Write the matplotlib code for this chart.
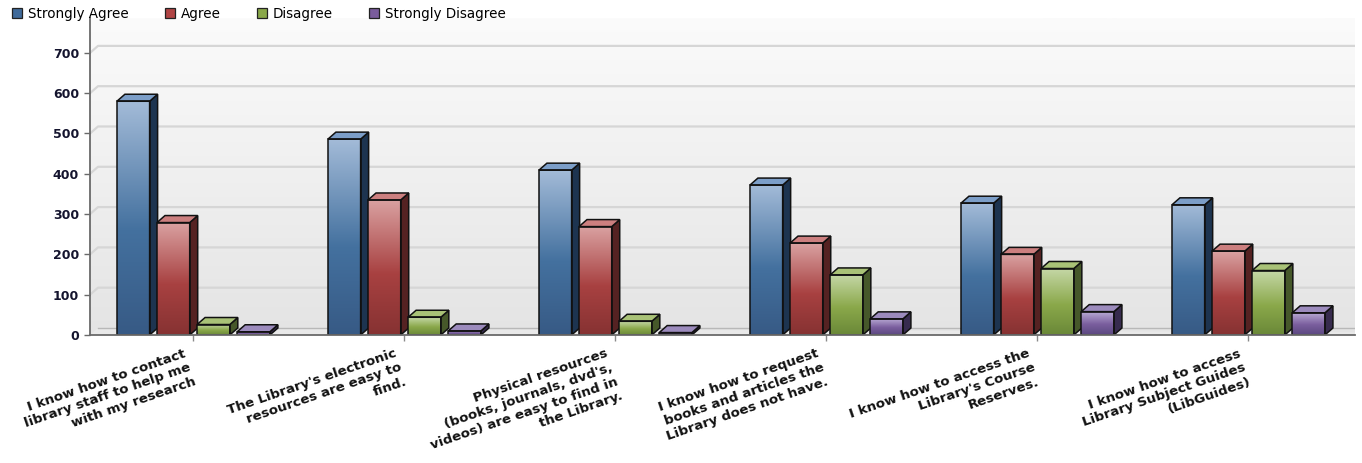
import numpy as np
import matplotlib.pyplot as plt
from matplotlib.colors import LinearSegmentedColormap
from matplotlib.patches import Polygon, Patch

# survey data
categories = [
    "I know how to contact\nlibrary staff to help me\nwith my research",
    "The Library's electronic\nresources are easy to\nfind.",
    "Physical resources\n(books, journals, dvd's,\nvideos) are easy to find in\nthe Library.",
    "I know how to request\nbooks and articles the\nLibrary does not have.",
    "I know how to access the\nLibrary's Course\nReserves.",
    "I know how to access\nLibrary Subject Guides\n(LibGuides)",
]
series_names = ["Strongly Agree", "Agree", "Disagree", "Strongly Disagree"]
strongly_agree = [580, 486, 409, 372, 327, 323]
agree = [279, 335, 269, 228, 200, 208]
disagree = [26, 44, 34, 149, 165, 160]
strongly_disagree = [8, 10, 6, 40, 58, 55]
y_ticks = [0, 100, 200, 300, 400, 500, 600, 700]

series = [strongly_agree, agree, disagree, strongly_disagree]

# (bottom, middle, top) of the front face, side face, top face, legend swatch
palette = [
    (("#375a85", "#44719f", "#a3bbd8"), "#1d3450", "#7c9ec8", "#3f6a9a"),
    (("#863232", "#a84141", "#daa2a2"), "#552222", "#cc7f7f", "#b04444"),
    (("#6a8838", "#8aa84a", "#c6d8a8"), "#46582a", "#a9c277", "#8aa84a"),
    (("#5b4880", "#7a5e9e", "#bcaed6"), "#372b4e", "#9c8bbd", "#7a5c9c"),
]

fig = plt.figure(figsize=(13.62, 4.63), dpi=100)
ax = fig.add_axes([90 / 1362, (463 - 335) / 463, 1265 / 1362, 317 / 463])

xmin, xmax = -0.49, 5.505
ymax = 786.6
ax.set_xlim(xmin, xmax)
ax.set_ylim(0, ymax)

# 3d depth of the bars and walls, in data units
dx = 8 / 211
dy = 17.4
pitch = 0.19
width = 0.155

# back wall gradient
wall = np.linspace(0, 1, 256).reshape(-1, 1)
wall_cmap = LinearSegmentedColormap.from_list("wall", ["#e4e4e4", "#fbfbfb"])
ax.imshow(wall, extent=[xmin, xmax, 0, ymax], origin="lower", aspect="auto",
          cmap=wall_cmap, zorder=0)

# floor
ax.add_patch(Polygon([(xmin, 0), (xmax, 0), (xmax + dx * 0.3, dy * 0.4), (xmin + dx, dy)],
                     closed=True, facecolor="#e9e9e9", edgecolor="none", zorder=1))
ax.plot([xmin + dx, xmax], [dy, dy], color="#b8b8b8", lw=1, zorder=1)

# gridlines on the back wall, with the slanted bit on the side wall
for t in y_ticks[1:]:
    ax.plot([xmin, xmin + dx, xmax], [t, t + dy, t + dy], color="#d6d6d6", lw=1.6, zorder=1)

x = np.arange(len(categories))
for j, vals in enumerate(series):
    (c0, c1, c2), side, top, _ = palette[j]
    cmap = LinearSegmentedColormap.from_list("s%d" % j, [(0, c0), (0.45, c1), (1, c2)])
    for i, v in enumerate(vals):
        x0 = x[i] + (j - 1.5) * pitch - width / 2
        x1 = x0 + width
        ax.imshow(wall, extent=[x0, x1, 0, v], origin="lower", aspect="auto",
                  cmap=cmap, zorder=3, interpolation="bilinear")
        ax.add_patch(Polygon([(x0, 0), (x1, 0), (x1, v), (x0, v)], closed=True,
                             facecolor="none", edgecolor="#111111", lw=1.1, zorder=4))
        ax.add_patch(Polygon([(x1, 0), (x1 + dx, dy), (x1 + dx, v + dy), (x1, v)], closed=True,
                             facecolor=side, edgecolor="#111111", lw=1.1, zorder=3))
        ax.add_patch(Polygon([(x0, v), (x1, v), (x1 + dx, v + dy), (x0 + dx, v + dy)], closed=True,
                             facecolor=top, edgecolor="#111111", lw=1.1, zorder=3))

ax.set_xlim(xmin, xmax)
ax.set_ylim(0, ymax)

for s in ["top", "right"]:
    ax.spines[s].set_visible(False)
for s in ["left", "bottom"]:
    ax.spines[s].set_color("#6a6a6a")
    ax.spines[s].set_linewidth(1.3)
    ax.spines[s].set_zorder(5)

ax.set_yticks(y_ticks)
ax.set_yticklabels([str(t) for t in y_ticks], fontsize=9, fontweight="bold", color="#14142e")
ax.tick_params(axis="y", length=4, width=1, color="#6a6a6a", pad=4)
ax.set_xticks(x)
ax.set_xticklabels([])
ax.tick_params(axis="x", length=4, width=1, color="#8a8a8a", direction="out")

for i, lab in enumerate(categories):
    ax.annotate(lab, xy=(x[i], 0), xycoords=("data", "axes fraction"),
                xytext=(-10, -12), textcoords="offset pixels",
                rotation=19, rotation_mode="anchor", ha="right", va="top",
                multialignment="right", fontsize=9.6, fontweight="bold",
                color="#111111", linespacing=1.18)

handles = [Patch(facecolor=p[3], edgecolor="#222222", lw=0.9) for p in palette]
fig.legend(handles, series_names, loc="upper left", bbox_to_anchor=(0.0, 1.012),
           ncol=4, frameon=False, fontsize=9.75, handlelength=0.7, handleheight=0.7,
           handletextpad=0.45, columnspacing=2.7)

fig.savefig("out.png", dpi=100)
